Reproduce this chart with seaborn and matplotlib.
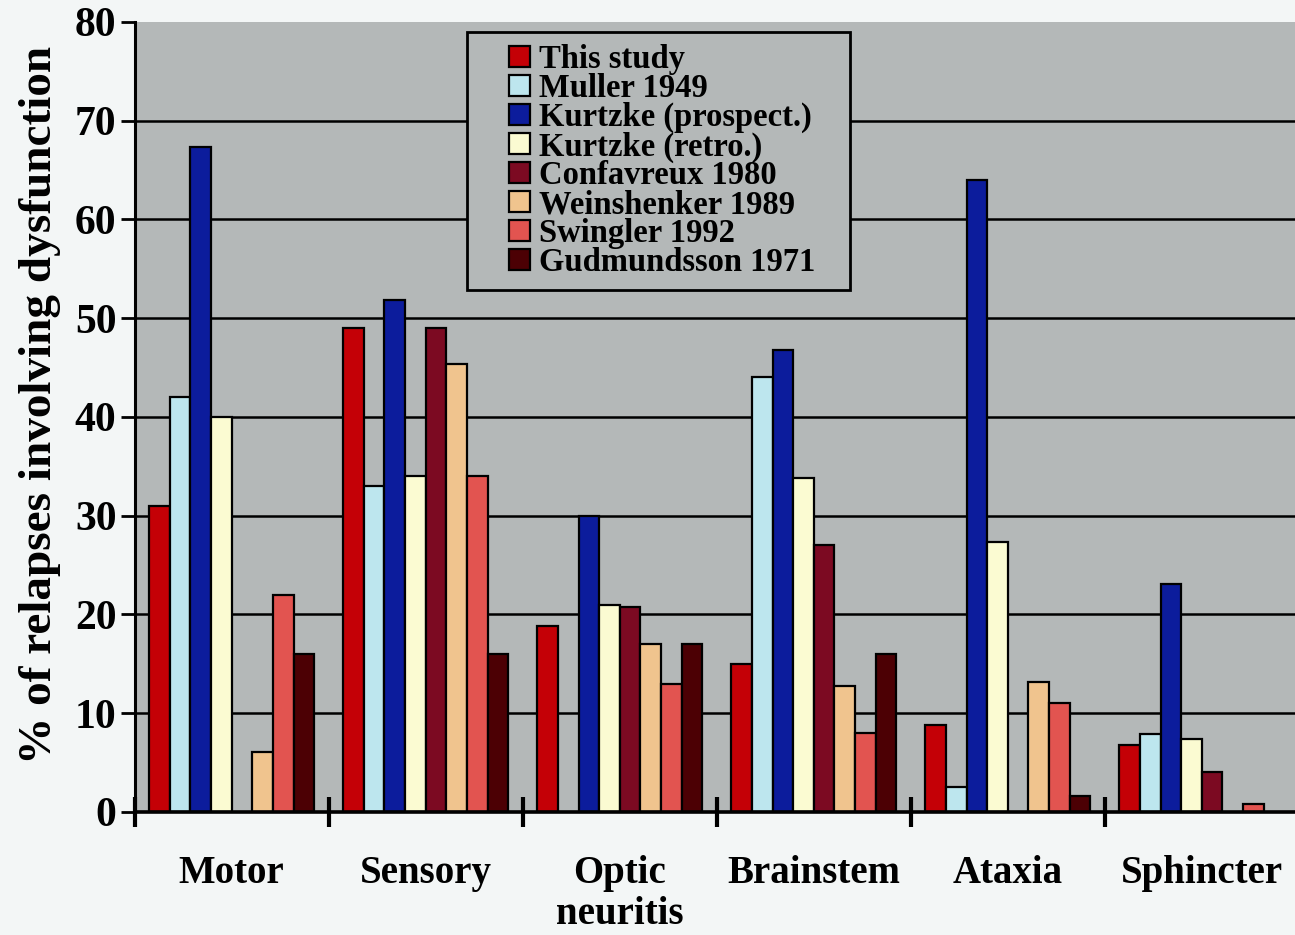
import numpy as np
import pandas as pd
import matplotlib
matplotlib.use("Agg")
import matplotlib.pyplot as plt
from matplotlib.patches import Rectangle
from matplotlib.legend_handler import HandlerPatch
import seaborn as sns

# Relapse symptom categories (x axis)
categories = ["Motor", "Sensory", "Optic\nneuritis", "Brainstem", "Ataxia", "Sphincter"]

# Study series, in legend order
studies = [
    "This study",
    "Muller 1949",
    "Kurtzke (prospect.)",
    "Kurtzke (retro.)",
    "Confavreux 1980",
    "Weinshenker 1989",
    "Swingler 1992",
    "Gudmundsson 1971",
]

# % of relapses involving each dysfunction (NaN = not reported)
this_study = [31.0, 49.0, 18.8, 15.0, 8.8, 6.8]
muller_1949 = [42.0, 33.0, np.nan, 44.0, 2.5, 7.9]
kurtzke_prospect = [67.3, 51.8, 30.0, 46.8, 64.0, 23.1]
kurtzke_retro = [40.0, 34.0, 21.0, 33.8, 27.3, 7.4]
confavreux_1980 = [np.nan, 49.0, 20.8, 27.0, np.nan, 4.0]
weinshenker_1989 = [6.1, 45.4, 17.0, 12.8, 13.2, np.nan]
swingler_1992 = [22.0, 34.0, 13.0, 8.0, 11.0, 0.8]
gudmundsson_1971 = [16.0, 16.0, 17.0, 16.0, 1.6, np.nan]

series = [this_study, muller_1949, kurtzke_prospect, kurtzke_retro,
          confavreux_1980, weinshenker_1989, swingler_1992, gudmundsson_1971]

colors = ["#c40006", "#bde6ee", "#0c1c9c", "#fbfbd2",
          "#7c0a22", "#f0c48e", "#e25450", "#4c0004"]

rows = []
for study, vals in zip(studies, series):
    for cat, v in zip(categories, vals):
        rows.append({"category": cat, "study": study, "value": v})
df = pd.DataFrame(rows)

sns.set_theme(style="white")
plt.rcParams["font.family"] = ["Liberation Serif", "DejaVu Serif"]
plt.rcParams["font.weight"] = "bold"
for key in ("text.color", "axes.labelcolor", "xtick.color", "ytick.color"):
    plt.rcParams[key] = "black"

fig = plt.figure(figsize=(12.95, 9.35), dpi=100, facecolor="#f3f6f6")
ax = fig.add_axes([0.104, 0.1316, 0.899, 0.845])
ax.set_facecolor("#b4b8b8")

sns.barplot(
    data=df, x="category", y="value", hue="study",
    order=categories, hue_order=studies, palette=colors,
    errorbar=None, saturation=1, width=0.85, gap=0,
    edgecolor="black", linewidth=1.6, ax=ax,
)

ax.set_xlim(-0.5, len(categories) - 0.5)
ax.set_ylim(0, 80)
ax.set_yticks(range(0, 81, 10))
ax.set_axisbelow(True)
ax.grid(axis="y", color="black", linewidth=1.8)
ax.grid(axis="x", visible=False)
ax.yaxis.get_gridlines()[-1].set_visible(False)

for side in ("top", "right"):
    ax.spines[side].set_visible(False)
ax.spines["left"].set_color("black")
ax.spines["left"].set_linewidth(2.2)
ax.spines["bottom"].set_color("black")
ax.spines["bottom"].set_linewidth(2.6)

ax.tick_params(axis="y", which="major", left=True, direction="out",
               length=10, width=2, color="black", pad=3, labelsize=30)

# category labels at centres, tick marks at category boundaries
ax.set_xticks(range(len(categories)))
ax.set_xticklabels(categories)
ax.set_xticks(np.arange(-0.5, len(categories), 1.0), minor=True)
ax.tick_params(axis="x", which="major", bottom=False, pad=25, labelsize=28)
ax.tick_params(axis="x", which="minor", bottom=True, direction="inout",
               length=22, width=3, color="black")
for lbl in ax.get_xticklabels() + ax.get_yticklabels():
    lbl.set_fontweight("bold")
for lbl in ax.get_xticklabels():
    lbl.set_linespacing(1.15)

ax.set_xlabel("")
ax.set_ylabel("% of relapses involving dysfunction", fontsize=34,
              fontweight="bold")
ax.yaxis.set_label_coords(-0.063, 0.515)


def square_swatch(legend, orig_handle, xdescent, ydescent, width, height, fontsize):
    # small square swatch pushed to the right end of the handle box
    s = 0.64 * fontsize
    return Rectangle((-xdescent + width - s, -ydescent + (height - s) / 2), s, s)


handles, labels = ax.get_legend_handles_labels()
leg = ax.legend(
    handles, labels, loc="upper left", mode="expand",
    bbox_to_anchor=(467 / 1295, 1 - 288 / 935, 383 / 1295, 256 / 935),
    bbox_transform=fig.transFigure,
    prop={"family": "Liberation Serif", "weight": "bold", "size": 23.5},
    frameon=True, fancybox=False, framealpha=1,
    facecolor="#b4b8b8", edgecolor="black",
    borderpad=0.38, labelspacing=-0.065, handlelength=1.55, handleheight=0.64,
    handletextpad=0.28, borderaxespad=0,
    handler_map={h: HandlerPatch(patch_func=square_swatch) for h in handles},
)
leg.get_frame().set_linewidth(2)

fig.savefig("out.png", dpi=100, facecolor=fig.get_facecolor())
